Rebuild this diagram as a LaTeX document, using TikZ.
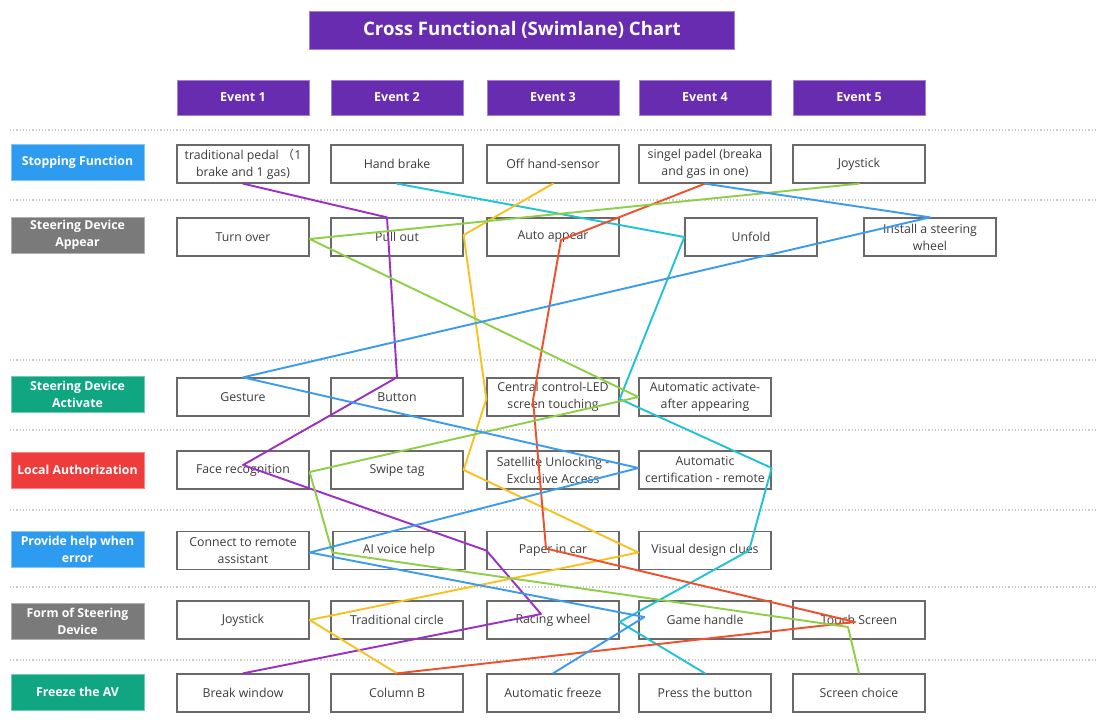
\documentclass[tikz,border=0pt]{standalone}
\usepackage{fontspec}
\setmainfont{Open Sans}
\newfontfamily\cjk{Noto Sans CJK SC}
\definecolor{hdrpurple}{RGB}{104,44,176}
\definecolor{lblue}{RGB}{45,156,240}
\definecolor{lgray}{RGB}{122,122,122}
\definecolor{lgreen}{RGB}{16,166,130}
\definecolor{lred}{RGB}{238,59,59}
\definecolor{boxgray}{RGB}{105,105,105}
\definecolor{textgray}{RGB}{60,60,60}
\definecolor{sepgray}{RGB}{200,200,200}
\definecolor{cpurple}{RGB}{156,47,196}
\definecolor{ccyan}{RGB}{31,195,214}
\definecolor{cyellow}{RGB}{247,194,29}
\definecolor{cred}{RGB}{242,78,42}
\definecolor{cgreen}{RGB}{141,207,69}
\definecolor{cblue}{RGB}{58,155,240}
\begin{document}
\begin{tikzpicture}[x=1pt,y=-1pt,
  box/.style={draw=boxgray, line width=1.3pt, fill=white, minimum width=132pt, minimum height=38pt, inner sep=1pt, align=center, text=textgray, font=\fontsize{12.3}{17}\selectfont},
  lane/.style={draw=#1!60!white, line width=0.8pt, fill=#1, minimum width=133pt, minimum height=36pt, inner sep=1pt, align=center, text=white, font=\bfseries\fontsize{12.3}{17}\selectfont},
  hdr/.style={fill=hdrpurple, draw=hdrpurple!60!white, line width=0.8pt, minimum width=132pt, minimum height=35pt, text=white, font=\bfseries\fontsize{12.5}{14}\selectfont},
  sep/.style={draw=sepgray, line width=1.2pt, dotted},
  conn/.style={line width=1.9pt, line join=round, line cap=round}]
\fill[white] (0,0) rectangle (1097,722);
\useasboundingbox (0,0) rectangle (1097,722);

% title
\node[fill=hdrpurple, draw=hdrpurple!60!white, line width=0.8pt, minimum width=425pt, minimum height=38pt, text=white, font=\bfseries\fontsize{18.6}{21}\selectfont] (title) at (522,30) {Cross Functional (Swimlane) Chart};

% event headers
\node[hdr] (e1) at (243,97.5) {Event 1};
\node[hdr] (e2) at (397,97.5) {Event 2};
\node[hdr] (e3) at (553,97.5) {Event 3};
\node[hdr] (e4) at (705,97.5) {Event 4};
\node[hdr] (e5) at (859,97.5) {Event 5};

% separators
\foreach \yy in {130,200,360,430,510,587,660}
  \draw[sep] (10,\yy) -- (1097,\yy);

% lane labels
\node[lane=lblue]  (l1) at (77.5,162.5) {Stopping Function};
\node[lane=lgray]  (l2) at (77.5,235)   {Steering Device\\Appear};
\node[lane=lgreen] (l3) at (77.5,394.5) {Steering Device\\Activate};
\node[lane=lred]   (l4) at (77.5,470)   {Local Authorization};
\node[lane=lblue]  (l5) at (77.5,549)   {Provide help when\\error};
\node[lane=lgray]  (l6) at (77.5,621)   {Form of Steering\\Device};
\node[lane=lgreen] (l7) at (77.5,692)   {Freeze the AV};

% row 1
\node[box] (tp)   at (243,164) {traditional pedal {\cjk （}1\\brake and 1 gas)};
\node[box] (hb)   at (397,164) {Hand brake};
\node[box] (off)  at (553,164) {Off hand-sensor};
\node[box] (sing) at (705,164) {singel padel (breaka\\and gas in one)};
\node[box] (joy1) at (859,164) {Joystick};
% row 2
\node[box] (turn) at (243,237) {Turn over};
\node[box] (po)   at (397,237) {Pull out};
\node[box] (aapp) at (553,237) {Auto appear};
\node[box] (unf)  at (751,237) {Unfold};
\node[box] (inst) at (930,237) {Install a steering\\wheel};
% row 3
\node[box] (gest) at (243,397) {Gesture};
\node[box] (btn)  at (397,397) {Button};
\node[box] (cen)  at (553,397) {Central control-LED\\screen touching};
\node[box] (aact) at (705,397) {Automatic activate-\\after appearing};
% row 4
\node[box] (face)  at (243,470) {Face recognition};
\node[box] (swipe) at (397,470) {Swipe tag};
\node[box] (sat)   at (553,470) {Satellite Unlocking -\\Exclusive Access};
\node[box] (acert) at (705,470) {Automatic\\certification - remote};
% row 5
\node[box] (crem)  at (243,550.5) {Connect to remote\\assistant};
\node[box] (ai)    at (399,550.5) {AI voice help};
\node[box] (paper) at (553,550.5) {Paper in car};
\node[box] (vis)   at (705,550.5) {Visual design clues};
% row 6
\node[box] (joy6)  at (243,620) {Joystick};
\node[box] (trad)  at (397,620) {Traditional circle};
\node[box] (race)  at (553,620) {Racing wheel};
\node[box] (game)  at (705,620) {Game handle};
\node[box] (touch) at (859,620) {Touch Screen};
% row 7
\node[box] (brk)   at (243,693) {Break window};
\node[box] (colb)  at (397,693) {Column B};
\node[box] (afr)   at (553,693) {Automatic freeze};
\node[box] (press) at (705,693) {Press the button};
\node[box] (scr)   at (859,693) {Screen choice};

% connectors
\draw[conn, cpurple] (tp.south) -- ([xshift=-10pt]po.north) -- (btn.north) -- ([yshift=5pt]face.center) -- (paper.west) -- ([shift={(-12pt,6pt)}]race.center) -- (brk.north);
\draw[conn, ccyan] (hb.south) -- (unf.west) -- ([yshift=-2pt]cen.east) -- ([yshift=2pt]acert.east) -- ([xshift=44pt]vis.center) -- ([yshift=-2pt]race.east) -- (press.north);
\draw[conn, cyellow] (off.south) -- ([yshift=2pt]po.east) -- ([yshift=-2pt]cen.west) -- (swipe.east) -- ([yshift=-2pt]vis.west) -- (joy6.east) -- (colb.north);
\draw[conn, cred] (sing.south) -- ([shift={(8pt,-3pt)}]aapp.center) -- ([shift={(-20pt,-3pt)}]cen.center) -- ([shift={(-7pt,2pt)}]paper.center) -- ([shift={(-4pt,-2pt)}]touch.center) -- (colb.north);
\draw[conn, cgreen] (joy1.south) -- ([yshift=-2pt]turn.east) -- (aact.west) -- ([yshift=-2pt]face.east) -- ([yshift=-2pt]ai.west) -- ([shift={(-11pt,-7pt)}]touch.center) -- (scr.north);
\draw[conn, cblue] (sing.south) -- (inst.north) -- (gest.north) -- ([yshift=2pt]acert.west) -- ([yshift=-2pt]crem.east) -- ([shift={(6pt,3pt)}]game.west) -- (afr.north);
\end{tikzpicture}
\end{document}
